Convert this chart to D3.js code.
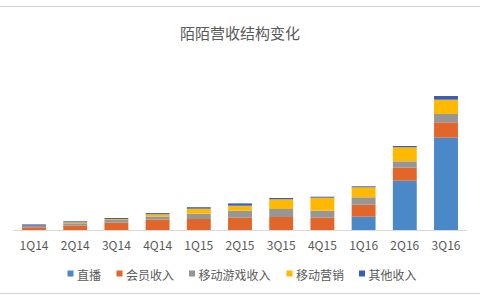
<!DOCTYPE html>
<html>
<head>
<meta charset="utf-8">
<script src="https://cdn.jsdelivr.net/npm/d3@7"></script>
<style>
  html, body { margin: 0; padding: 0; background: #fff; }
  svg { display: block; }
</style>
</head>
<body>
<svg id="chart" width="480" height="300"></svg>
<script>
const categories = ["1Q14","2Q14","3Q14","4Q14","1Q15","2Q15","3Q15","4Q15","1Q16","2Q16","3Q16"];
const seriesNames = ["直播","会员收入","移动游戏收入","移动营销","其他收入"];
const liveVideo   = [0, 0, 0, 0, 0, 0, 0, 0, 13.3, 49.3, 92.3];
const membership  = [2.7, 4.3, 7.3, 10.3, 11, 12.3, 13, 12.3, 12, 13, 15.4];
const mobileGames = [1.3, 2.4, 2.7, 3.2, 5.3, 7, 8, 7, 7.4, 6.4, 8.3];
const marketing   = [0.3, 1, 1, 2.2, 5, 5, 9.7, 13, 10, 14, 14.3];
const other       = [1.3, 1, 1, 1.2, 1.5, 2.3, 1.3, 1, 1, 1.3, 3.7];
const colors = ["#4a88c8", "#e2652a", "#969696", "#ffb900", "#3a5db8"];
const title = "陌陌营收结构变化";

const seriesData = [liveVideo, membership, mobileGames, marketing, other];
const table = categories.map((c, i) => {
  const row = { cat: c };
  seriesNames.forEach((s, j) => row[s] = seriesData[j][i]);
  return row;
});
const stacked = d3.stack().keys(seriesNames)(table);

const svg = d3.select("#chart");
const font = "'Noto Sans CJK SC', 'Noto Sans', sans-serif";

// frame lines
svg.append("line").attr("x1", 0).attr("x2", 480).attr("y1", 6.5).attr("y2", 6.5)
  .attr("stroke", "#d0d0d0").attr("stroke-width", 1);
svg.append("line").attr("x1", 0).attr("x2", 480).attr("y1", 293.5).attr("y2", 293.5)
  .attr("stroke", "#d0d0d0").attr("stroke-width", 1);

svg.append("text").attr("x", 240).attr("y", 32).attr("text-anchor", "middle")
  .attr("dominant-baseline", "central")
  .style("font-family", font).style("font-size", "15px").attr("fill", "#595959")
  .text(title);

const x = d3.scaleBand().domain(categories).range([13.4, 466.6]).paddingInner(0.42).paddingOuter(0.21);
const y = d3.scaleLinear().domain([0, 140]).range([230, 90]);

const g = svg.append("g");
g.selectAll("g.series").data(stacked).join("g")
  .attr("fill", (d, i) => colors[i])
  .selectAll("rect").data(d => d).join("rect")
  .attr("x", d => x(d.data.cat))
  .attr("width", x.bandwidth())
  .attr("y", d => y(d[1]))
  .attr("height", d => Math.max(0, y(d[0]) - y(d[1])));

const axis = svg.append("g").attr("transform", "translate(0,230)")
  .call(d3.axisBottom(x).tickSize(0).tickPadding(11));
axis.select(".domain").attr("stroke", "#d9d9d9").attr("stroke-width", 1)
  .attr("d", "M13.4,0.5H466.6");
axis.selectAll("text").style("font-family", font).style("font-size", "12px").attr("fill", "#595959");

// legend
const legendX = [67.5, 116.5, 189, 286.5, 359];
const leg = svg.append("g");
seriesNames.forEach((s, i) => {
  leg.append("rect").attr("x", legendX[i]).attr("y", 270.5).attr("width", 6).attr("height", 6).attr("fill", colors[i]);
  leg.append("text").attr("x", legendX[i] + 9.5).attr("y", 274).attr("dominant-baseline", "central")
    .style("font-family", font).style("font-size", "12px").attr("fill", "#595959").text(s);
});
</script>
</body>
</html>
